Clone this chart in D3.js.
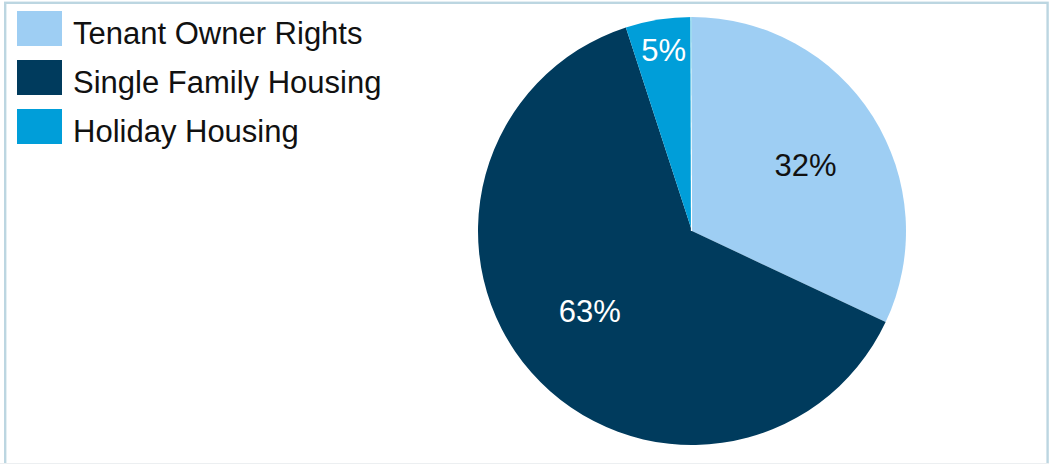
<!DOCTYPE html>
<html>
<head>
<meta charset="utf-8">
<script src="https://cdn.jsdelivr.net/npm/d3@7"></script>
<style>
  html, body { margin: 0; padding: 0; background: #fff; }
  svg { display: block; }
  text { font-family: "Liberation Sans", Arial, sans-serif; }
</style>
</head>
<body>
<svg id="chart" width="1049" height="464"></svg>
<script>
// Housing type shares
const categories = ["Tenant Owner Rights", "Single Family Housing", "Holiday Housing"];
const shares = [32, 63, 5];
const labels = ["32%", "63%", "5%"];
const colors = ["#9ecef3", "#003b5d", "#009ed9"];

const width = 1049, height = 464;
const svg = d3.select("#chart");

// Frame
svg.append("rect")
  .attr("x", 5.2).attr("y", 2.8)
  .attr("width", 1042.4).attr("height", 470)
  .attr("fill", "none")
  .attr("stroke", "#bcd6e1")
  .attr("stroke-width", 2.4);
svg.append("line")
  .attr("x1", 0).attr("x2", width)
  .attr("y1", 463.5).attr("y2", 463.5)
  .attr("stroke", "#eceff1").attr("stroke-width", 1);

// Pie
const cx = 692, cy = 231, R = 214;
const pie = d3.pie().sort(null).value(d => d.value);
const arcs = pie(categories.map((c, i) => ({ name: c, value: shares[i], label: labels[i], color: colors[i] })));
const arc = d3.arc().innerRadius(0).outerRadius(R);

const g = svg.append("g").attr("transform", `translate(${cx},${cy})`);
g.selectAll("path.slice")
  .data(arcs)
  .join("path")
  .attr("class", "slice")
  .attr("d", arc)
  .attr("fill", d => d.data.color);

// Thin white seam at the start angle
const a0 = arcs[0].startAngle;
g.append("line")
  .attr("x1", 0).attr("y1", 0)
  .attr("x2", R * Math.sin(a0) - 0.5).attr("y2", -R * Math.cos(a0))
  .attr("transform", "translate(-0.5,0)")
  .attr("stroke", "#fff").attr("stroke-width", 1.2);

// Value labels: small slices get their label pushed toward the rim
const labelRadius = d => (d.endAngle - d.startAngle) < 0.5 ? R * 0.85 : R * 0.61;
const labelShift = d => (d.endAngle - d.startAngle) < 0.5 ? 0 : 0.05;
g.selectAll("text.value")
  .data(arcs)
  .join("text")
  .attr("class", "value")
  .attr("transform", d => {
    const r = labelRadius(d);
    const s = labelShift(d);
    const [x, y] = d3.arc().innerRadius(r).outerRadius(r)
      .centroid({ startAngle: d.startAngle + s, endAngle: d.endAngle + s });
    return `translate(${x},${y})`;
  })
  .attr("text-anchor", "middle")
  .attr("dy", "0.3em")
  .attr("font-size", 31)
  .attr("fill", (d, i) => i === 0 ? "#111" : "#fff")
  .text(d => d.data.label);

// Legend
const legend = svg.append("g").attr("transform", "translate(17,11)");
const item = legend.selectAll("g")
  .data(categories)
  .join("g")
  .attr("transform", (d, i) => `translate(0,${i * 49})`);
item.append("rect")
  .attr("width", 45).attr("height", 35)
  .attr("fill", (d, i) => colors[i]);
item.append("text")
  .attr("x", 56).attr("y", 33)
  .attr("font-size", 31)
  .attr("fill", "#111")
  .text(d => d);
</script>
</body>
</html>
